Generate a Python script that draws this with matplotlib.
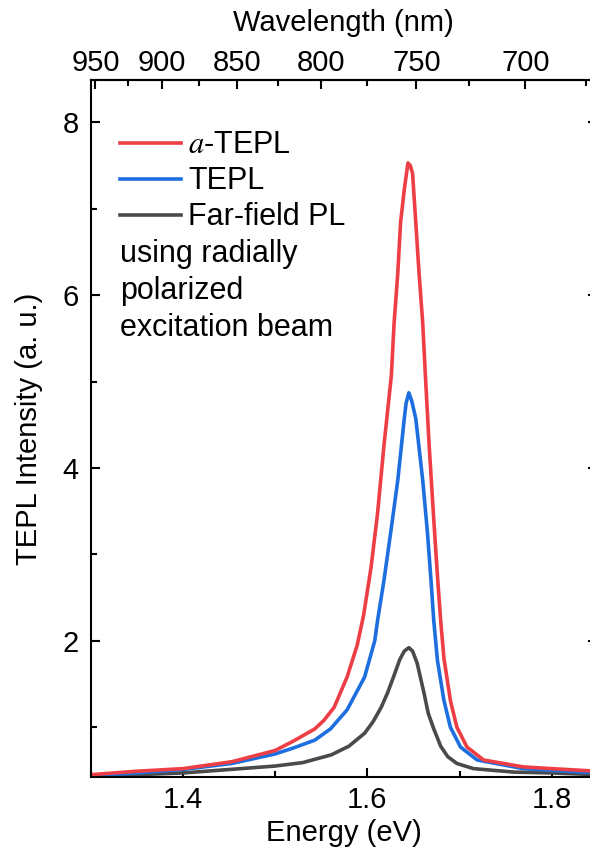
import matplotlib
matplotlib.use("Agg")
import matplotlib.pyplot as plt
from matplotlib.ticker import MultipleLocator, FixedLocator
from matplotlib.lines import Line2D

plt.rcParams['font.family'] = ['Liberation Sans', 'DejaVu Sans']
plt.rcParams['mathtext.fontset'] = 'stix'

# values (energy in eV, intensity in a.u.)
red_e = [1.300, 1.350, 1.400, 1.453, 1.500, 1.520, 1.543, 1.553, 1.564, 1.578,
         1.589, 1.596, 1.604, 1.611, 1.618, 1.626, 1.629, 1.633, 1.636, 1.640,
         1.644, 1.6465, 1.649, 1.6525, 1.656, 1.660, 1.663, 1.667, 1.672, 1.676,
         1.6795, 1.683, 1.690, 1.697, 1.708, 1.726, 1.769, 1.800, 1.849]
red_v = [0.45, 0.49, 0.52, 0.60, 0.73, 0.84, 0.98, 1.08, 1.23, 1.58,
         1.95, 2.30, 2.85, 3.47, 4.26, 5.07, 5.68, 6.26, 6.84, 7.22,
         7.53, 7.50, 7.41, 6.84, 6.26, 5.68, 5.05, 4.26, 3.40, 2.75,
         2.23, 1.80, 1.31, 1.00, 0.77, 0.62, 0.54, 0.52, 0.49]

blue_e = [1.300, 1.350, 1.400, 1.453, 1.500, 1.520, 1.543, 1.560, 1.578, 1.597,
          1.608, 1.611, 1.618, 1.6255, 1.633, 1.640, 1.642, 1.645, 1.648, 1.6525,
          1.660, 1.665, 1.669, 1.672, 1.676, 1.683, 1.690, 1.701, 1.719, 1.769,
          1.800, 1.849]
blue_v = [0.44, 0.47, 0.51, 0.58, 0.69, 0.76, 0.85, 0.98, 1.20, 1.58,
          2.00, 2.23, 2.70, 3.27, 3.86, 4.57, 4.75, 4.87, 4.78, 4.57,
          3.86, 3.27, 2.70, 2.23, 1.77, 1.31, 1.00, 0.77, 0.62, 0.52,
          0.50, 0.47]

gray_e = [1.300, 1.350, 1.400, 1.450, 1.500, 1.530, 1.561, 1.580, 1.597, 1.606,
          1.615, 1.622, 1.629, 1.635, 1.640, 1.645, 1.649, 1.654, 1.6615, 1.666,
          1.672, 1.6795, 1.687, 1.697, 1.715, 1.759, 1.800, 1.849]
gray_v = [0.43, 0.45, 0.47, 0.51, 0.55, 0.59, 0.68, 0.78, 0.93, 1.06,
          1.23, 1.40, 1.60, 1.78, 1.88, 1.92, 1.88, 1.74, 1.39, 1.16,
          0.98, 0.78, 0.66, 0.58, 0.52, 0.48, 0.47, 0.45]

labels = [r'$a$-TEPL', 'TEPL', 'Far-field PL']
note = ['using radially', 'polarized', 'excitation beam']
colors = ['#EE3E45', '#1D6FE0', '#4A4A4A']

wl_major = [950, 900, 850, 800, 750, 700]
wl_minor = [925, 875, 825, 775, 725, 675]

fig = plt.figure(figsize=(5.9, 8.52), dpi=100)
ax = fig.add_axes([0.1537, 0.0877, 0.8582, 0.8184])

ax.plot(gray_e, gray_v, color=colors[2], lw=2.6)
ax.plot(blue_e, blue_v, color=colors[1], lw=2.6)
ax.plot(red_e, red_v, color=colors[0], lw=2.6)

ax.set_xlim(1.3, 1.849)
ax.set_ylim(0.42, 8.49)
ax.xaxis.set_major_locator(MultipleLocator(0.2))
ax.xaxis.set_minor_locator(MultipleLocator(0.1))
ax.yaxis.set_major_locator(FixedLocator([2, 4, 6, 8]))
ax.yaxis.set_minor_locator(FixedLocator([1, 3, 5, 7]))
ax.tick_params(which='both', direction='in', right=True, width=1.5, labelsize=21)
ax.tick_params(which='major', length=6.5)
ax.tick_params(which='minor', length=4.3)
ax.tick_params(axis='y', pad=8.5)
ax.tick_params(axis='x', pad=6)
for s in ax.spines.values():
    s.set_linewidth(1.5)

ax.set_xlabel('Energy (eV)', fontsize=21, labelpad=4)
ax.set_ylabel('TEPL Intensity (a. u.)', fontsize=21)
ax.yaxis.set_label_coords(-0.094, 0.5)

top = ax.secondary_xaxis('top', functions=(lambda e: 1239.84 / e, lambda w: 1239.84 / w))
top.set_xticks(wl_major)
top.xaxis.set_minor_locator(FixedLocator(wl_minor))
top.tick_params(which='both', direction='in', width=1.5, labelsize=21, pad=2)
top.tick_params(which='major', length=6.5)
top.tick_params(which='minor', length=4.3)
top.spines['top'].set_linewidth(1.5)
top.set_xlabel('Wavelength (nm)', fontsize=21, labelpad=13)

handles = [Line2D([], [], color=c, lw=2.6) for c in colors]
ax.legend(handles, labels, loc='upper left', bbox_to_anchor=(0.058, 0.928),
          frameon=False, fontsize=22, borderpad=0, borderaxespad=0,
          labelspacing=0.2, handlelength=2.0, handletextpad=0.22)

for i, line in enumerate(note):
    ax.text(0.058, 0.750 - i * 0.0531, line, transform=ax.transAxes,
            fontsize=22, va='center', ha='left')

fig.savefig('out.png', dpi=100)
